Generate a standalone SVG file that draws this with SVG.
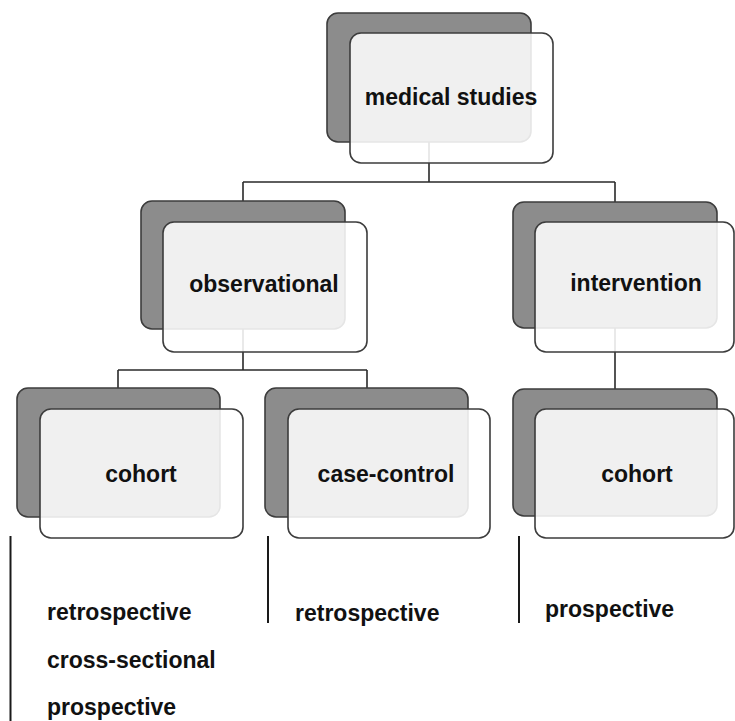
<svg xmlns="http://www.w3.org/2000/svg" width="735" height="721" viewBox="0 0 735 721">
<style>
.bg{fill:#ffffff}
.dark{fill:#8c8c8c;stroke:#3c3c3c;stroke-width:1.6}
.light{fill:#ffffff;fill-opacity:0.87;stroke:#3c3c3c;stroke-width:1.6}
.conn{fill:none;stroke:#2a2a2a;stroke-width:1.6}
.bar{fill:none;stroke:#1a1a1a;stroke-width:2}
.lbl{font-family:"Liberation Sans",Arial,sans-serif;font-weight:bold;font-size:23px;fill:#111111;text-anchor:middle}
.item{font-family:"Liberation Sans",Arial,sans-serif;font-weight:bold;font-size:23px;fill:#111111}
</style>
<rect class="bg" x="0" y="0" width="735" height="721"/>
<g id="connectors">
<path class="conn" d="M429,142 V182 M243,182 H615 M243,182 V201 M615,182 V202"/>
<path class="conn" d="M243,329 V370 M118,370 H367 M118,370 V388 M367,370 V388"/>
<path class="conn" d="M615,328 V389"/>
<path class="bar" d="M10.5,536 V721 M268,536 V623 M519,536 V623"/>
</g>
<g id="node-medical-studies">
<rect class="dark" x="327" y="13" width="204" height="129" rx="11"/>
<rect class="light" x="350" y="33" width="203" height="130" rx="11"/>
<text class="lbl" x="451" y="105">medical studies</text>
</g>
<g id="node-observational">
<rect class="dark" x="141" y="201" width="204" height="128" rx="11"/>
<rect class="light" x="163" y="222" width="204" height="130" rx="11"/>
<text class="lbl" x="264" y="292">observational</text>
</g>
<g id="node-intervention">
<rect class="dark" x="513" y="202" width="204" height="126" rx="11"/>
<rect class="light" x="535" y="222" width="199" height="130" rx="11"/>
<text class="lbl" x="636" y="291">intervention</text>
</g>
<g id="node-cohort-obs">
<rect class="dark" x="17" y="388" width="203" height="129" rx="11"/>
<rect class="light" x="40" y="409" width="203" height="129" rx="11"/>
<text class="lbl" x="141" y="482">cohort</text>
</g>
<g id="node-case-control">
<rect class="dark" x="265" y="388" width="203" height="129" rx="11"/>
<rect class="light" x="288" y="409" width="202" height="129" rx="11"/>
<text class="lbl" x="386" y="482">case-control</text>
</g>
<g id="node-cohort-int">
<rect class="dark" x="513" y="389" width="204" height="127" rx="11"/>
<rect class="light" x="535" y="409" width="199" height="129" rx="11"/>
<text class="lbl" x="637" y="482">cohort</text>
</g>
<g id="lists">
<text class="item" x="47" y="620">retrospective</text>
<text class="item" x="47" y="668">cross-sectional</text>
<text class="item" x="47" y="715">prospective</text>
<text class="item" x="295" y="621">retrospective</text>
<text class="item" x="545" y="617">prospective</text>
</g>
</svg>
